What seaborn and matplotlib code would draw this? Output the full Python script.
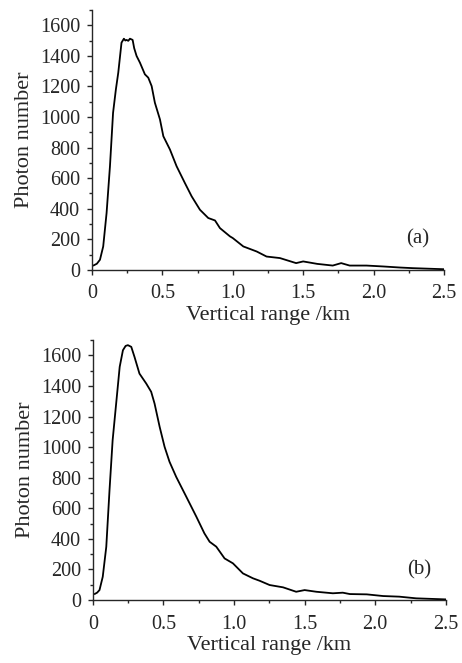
import pandas as pd
import matplotlib.pyplot as plt
import matplotlib.ticker as mticker
import seaborn as sns

# Dati: pannello (a)
range_a = [0.01, 0.035, 0.057, 0.08, 0.104, 0.128, 0.15, 0.17, 0.187, 0.21, 0.227, 0.237, 0.246, 0.258,
           0.27, 0.289, 0.30, 0.317, 0.341, 0.376, 0.40, 0.424, 0.447, 0.483, 0.507, 0.554,
           0.601, 0.66, 0.708, 0.767, 0.826, 0.874, 0.909, 0.98, 1.0, 1.075, 1.17,
           1.24, 1.335, 1.45, 1.5, 1.6, 1.71, 1.77, 1.83, 1.95, 2.07, 2.19, 2.28, 2.5]
photons_a = [28, 40, 66, 153, 372, 678, 1027, 1180, 1290, 1486, 1512, 1500, 1504, 1498,
             1512, 1504, 1450, 1399, 1355, 1279, 1257, 1202, 1093, 984, 874, 787,
             678, 568, 481, 393, 339, 323, 273, 219, 208, 153, 120,
             87, 77, 44, 55, 39, 28, 44, 28, 28, 22, 15, 11, 4]

# Dati: pannello (b)
range_b = [0.012, 0.03, 0.047, 0.07, 0.095, 0.118, 0.14, 0.165, 0.19, 0.213, 0.232, 0.248, 0.272,
           0.295, 0.33, 0.378, 0.413, 0.437, 0.473, 0.508, 0.543, 0.59, 0.662, 0.733,
           0.79, 0.827, 0.874, 0.933, 0.992, 1.063, 1.134, 1.181, 1.252, 1.347, 1.44,
           1.5, 1.583, 1.7, 1.77, 1.82, 1.94, 2.056, 2.17, 2.29, 2.5]
photons_b = [39, 48, 65, 152, 348, 719, 1045, 1285, 1525, 1634, 1662, 1667, 1656,
             1590, 1481, 1416, 1362, 1285, 1133, 1002, 904, 806, 675, 545,
             436, 381, 349, 272, 240, 174, 142, 126, 98, 83, 54,
             65, 54, 44, 48, 39, 37, 26, 22, 11, 4]

panel_labels = ["(a)", "(b)"]

sns.set_style("ticks")
plt.rcParams['font.family'] = ['Liberation Serif', 'DejaVu Serif']
plt.rcParams['xtick.direction'] = 'out'
plt.rcParams['ytick.direction'] = 'out'

fig = plt.figure(figsize=(4.62, 6.63), dpi=100)
ax_a = fig.add_axes([0.199, 0.593, 0.762, 0.392])
ax_b = fig.add_axes([0.201, 0.095, 0.764, 0.392])

panels = [(ax_a, range_a, photons_a), (ax_b, range_b, photons_b)]

for (ax, xr, yp), lab in zip(panels, panel_labels):
    df = pd.DataFrame({"range": xr, "photons": yp})
    sns.lineplot(data=df, x="range", y="photons", ax=ax, color="black", linewidth=1.3)
    ax.set_xlim(0, 2.5)
    ax.set_ylim(0, 1700)
    ax.xaxis.set_major_locator(mticker.MultipleLocator(0.5))
    ax.xaxis.set_minor_locator(mticker.MultipleLocator(0.25))
    ax.yaxis.set_major_locator(mticker.MultipleLocator(200))
    ax.yaxis.set_minor_locator(mticker.MultipleLocator(100))
    ax.xaxis.set_major_formatter(mticker.FuncFormatter(lambda v, p: "0" if v == 0 else f"{v:.1f}"))
    ax.tick_params(which="major", length=3.5, width=1, labelsize=14.5)
    ax.tick_params(which="minor", length=2.5, width=1)
    ax.tick_params(axis="x", which="major", pad=7)
    ax.tick_params(axis="y", which="major", pad=5)
    ax.set_xlabel("Vertical range /km", fontsize=16, labelpad=2)
    ax.set_ylabel("Photon number", fontsize=16, labelpad=4)
    ax.text(2.31, 200, lab, fontsize=15, ha="center", va="center")
    for s in ["left", "bottom"]:
        ax.spines[s].set_linewidth(1.0)
    sns.despine(ax=ax)

plt.savefig("out.png", dpi=100)
plt.close()
